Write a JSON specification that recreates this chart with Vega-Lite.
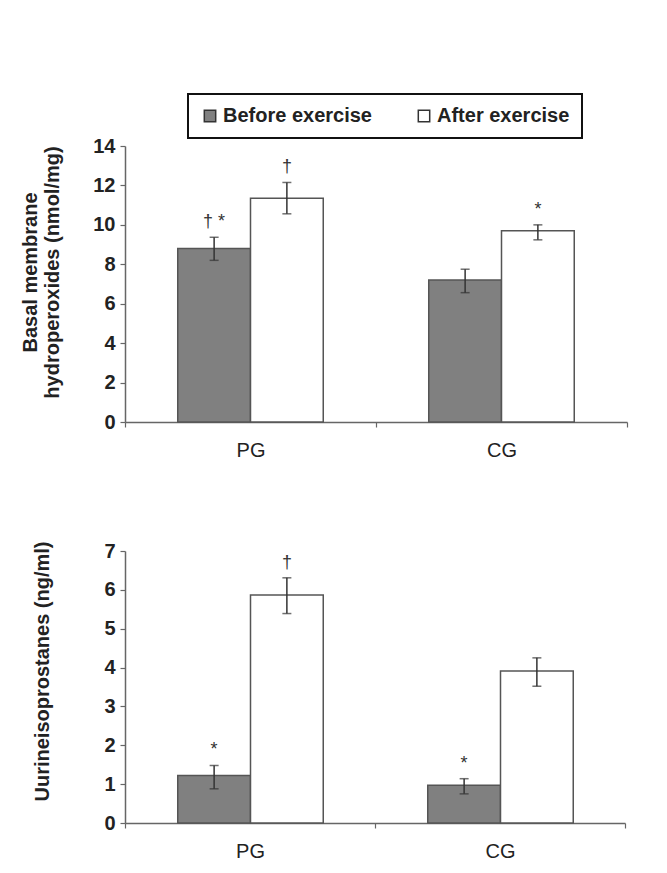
{
  "$schema": "https://vega.github.io/schema/vega-lite/v6.json",
  "background": "white",
  "padding": {"left": 20, "top": 93, "right": 5, "bottom": 5},
  "datasets": {
    "top": [
      {"group": "PG", "phase": "Before exercise", "value": 8.8, "lo": 8.2, "hi": 9.37, "ann": "† *"},
      {"group": "PG", "phase": "After exercise", "value": 11.35, "lo": 10.56, "hi": 12.15, "ann": "†"},
      {"group": "CG", "phase": "Before exercise", "value": 7.2, "lo": 6.56, "hi": 7.75, "ann": ""},
      {"group": "CG", "phase": "After exercise", "value": 9.7, "lo": 9.24, "hi": 10.0, "ann": "*"}
    ],
    "bottom": [
      {"group": "PG", "phase": "Before exercise", "value": 1.22, "lo": 0.88, "hi": 1.48, "ann": "*"},
      {"group": "PG", "phase": "After exercise", "value": 5.87, "lo": 5.39, "hi": 6.31, "ann": "†"},
      {"group": "CG", "phase": "Before exercise", "value": 0.97, "lo": 0.75, "hi": 1.14, "ann": "*"},
      {"group": "CG", "phase": "After exercise", "value": 3.91, "lo": 3.52, "hi": 4.25, "ann": ""}
    ]
  },
  "spacing": 80,
  "vconcat": [
    {
      "width": 502,
      "height": 276,
      "data": {"name": "top"},
      "encoding": {
        "x": {"field": "group", "type": "nominal", "sort": ["PG", "CG"],
              "scale": {"paddingInner": 0, "paddingOuter": 0},
              "axis": {"title": null, "labelAngle": 0, "tickBand": "extent", "labelPadding": 13}},
        "xOffset": {"field": "phase", "type": "nominal", "sort": ["Before exercise", "After exercise"],
                    "scale": {"paddingInner": 0, "paddingOuter": 0.725}}
      },
      "layer": [
        {
          "mark": {"type": "bar", "stroke": "#555", "strokeWidth": 1.5},
          "encoding": {
            "y": {"field": "value", "type": "quantitative",
                  "scale": {"domain": [0, 14]},
                  "axis": {"values": [0, 2, 4, 6, 8, 10, 12, 14], "labelOverlap": false, "titlePadding": 30, "titleY": 126,
                           "title": ["Basal membrane", "hydroperoxides (nmol/mg)"]}},
            "color": {"field": "phase", "type": "nominal",
                      "scale": {"domain": ["Before exercise", "After exercise"], "range": ["#808080", "#ffffff"]},
                      "legend": {"orient": "none", "legendX": 63, "legendY": -52, "direction": "horizontal", "title": null}}
          }
        },
        {
          "mark": {"type": "rule", "color": "#333", "strokeWidth": 1.5},
          "encoding": {"y": {"field": "lo", "type": "quantitative",
                             "axis": {"values": [0, 2, 4, 6, 8, 10, 12, 14], "labelOverlap": false, "titlePadding": 30, "titleY": 126,
                                      "title": ["Basal membrane", "hydroperoxides (nmol/mg)"]}},
                       "y2": {"field": "hi"}}
        },
        {
          "mark": {"type": "tick", "color": "#333", "size": 9, "thickness": 1.5},
          "encoding": {"y": {"field": "lo", "type": "quantitative",
                             "axis": {"values": [0, 2, 4, 6, 8, 10, 12, 14], "labelOverlap": false, "titlePadding": 30, "titleY": 126,
                                      "title": ["Basal membrane", "hydroperoxides (nmol/mg)"]}}}
        },
        {
          "mark": {"type": "tick", "color": "#333", "size": 9, "thickness": 1.5},
          "encoding": {"y": {"field": "hi", "type": "quantitative",
                             "axis": {"values": [0, 2, 4, 6, 8, 10, 12, 14], "labelOverlap": false, "titlePadding": 30, "titleY": 126,
                                      "title": ["Basal membrane", "hydroperoxides (nmol/mg)"]}}}
        },
        {
          "mark": {"type": "text", "baseline": "bottom", "dy": -6, "fontSize": 18, "color": "#333"},
          "encoding": {"y": {"field": "hi", "type": "quantitative",
                             "axis": {"values": [0, 2, 4, 6, 8, 10, 12, 14], "labelOverlap": false, "titlePadding": 30, "titleY": 126,
                                      "title": ["Basal membrane", "hydroperoxides (nmol/mg)"]}},
                       "text": {"field": "ann"}}
        }
      ]
    },
    {
      "width": 500,
      "height": 272,
      "data": {"name": "bottom"},
      "encoding": {
        "x": {"field": "group", "type": "nominal", "sort": ["PG", "CG"],
              "scale": {"paddingInner": 0, "paddingOuter": 0},
              "axis": {"title": null, "labelAngle": 0, "tickBand": "extent", "labelPadding": 13}},
        "xOffset": {"field": "phase", "type": "nominal", "sort": ["Before exercise", "After exercise"],
                    "scale": {"paddingInner": 0, "paddingOuter": 0.725}}
      },
      "layer": [
        {
          "mark": {"type": "bar", "stroke": "#555", "strokeWidth": 1.5},
          "encoding": {
            "y": {"field": "value", "type": "quantitative",
                  "scale": {"domain": [0, 7]},
                  "axis": {"values": [0, 1, 2, 3, 4, 5, 6, 7], "labelOverlap": false, "titlePadding": 51, "titleY": 120,
                           "title": "Uurineisoprostanes (ng/ml)"}},
            "color": {"field": "phase", "type": "nominal",
                      "scale": {"domain": ["Before exercise", "After exercise"], "range": ["#808080", "#ffffff"]},
                      "legend": {"orient": "none", "legendX": 63, "legendY": -52, "direction": "horizontal", "title": null}}
          }
        },
        {
          "mark": {"type": "rule", "color": "#333", "strokeWidth": 1.5},
          "encoding": {"y": {"field": "lo", "type": "quantitative",
                             "axis": {"values": [0, 1, 2, 3, 4, 5, 6, 7], "labelOverlap": false, "titlePadding": 51, "titleY": 120,
                                      "title": "Uurineisoprostanes (ng/ml)"}},
                       "y2": {"field": "hi"}}
        },
        {
          "mark": {"type": "tick", "color": "#333", "size": 9, "thickness": 1.5},
          "encoding": {"y": {"field": "lo", "type": "quantitative",
                             "axis": {"values": [0, 1, 2, 3, 4, 5, 6, 7], "labelOverlap": false, "titlePadding": 51, "titleY": 120,
                                      "title": "Uurineisoprostanes (ng/ml)"}}}
        },
        {
          "mark": {"type": "tick", "color": "#333", "size": 9, "thickness": 1.5},
          "encoding": {"y": {"field": "hi", "type": "quantitative",
                             "axis": {"values": [0, 1, 2, 3, 4, 5, 6, 7], "labelOverlap": false, "titlePadding": 51, "titleY": 120,
                                      "title": "Uurineisoprostanes (ng/ml)"}}}
        },
        {
          "mark": {"type": "text", "baseline": "bottom", "dy": -6, "fontSize": 18, "color": "#333"},
          "encoding": {"y": {"field": "hi", "type": "quantitative",
                             "axis": {"values": [0, 1, 2, 3, 4, 5, 6, 7], "labelOverlap": false, "titlePadding": 51, "titleY": 120,
                                      "title": "Uurineisoprostanes (ng/ml)"}},
                       "text": {"field": "ann"}}
        }
      ]
    }
  ],
  "resolve": {"scale": {"color": "shared"}},
  "config": {
    "font": "Liberation Sans",
    "view": {"stroke": null},
    "axis": {
      "grid": false,
      "domainColor": "#666",
      "domainWidth": 1.5,
      "tickColor": "#666",
      "tickWidth": 1.2,
      "tickSize": 5,
      "labelColor": "#222",
      "labelFontSize": 20,
      "labelFontWeight": "bold",
      "titleColor": "#222",
      "titleFontSize": 20,
      "titleFontWeight": "bold",
      "titleLineHeight": 22,
      "labelPadding": 5
    },
    "axisX": {"labelFontWeight": "normal", "labelFontSize": 20},
    "legend": {
      "strokeColor": "#111",
      "strokeWidth": 2,
      "padding": 12,
      "symbolType": "square",
      "symbolSize": 130,
      "symbolStrokeColor": "#333",
      "symbolStrokeWidth": 1.5,
      "labelFontSize": 20,
      "labelFontWeight": "bold",
      "labelColor": "#222",
      "columnPadding": 42,
      "labelOffset": 3
    }
  }
}
